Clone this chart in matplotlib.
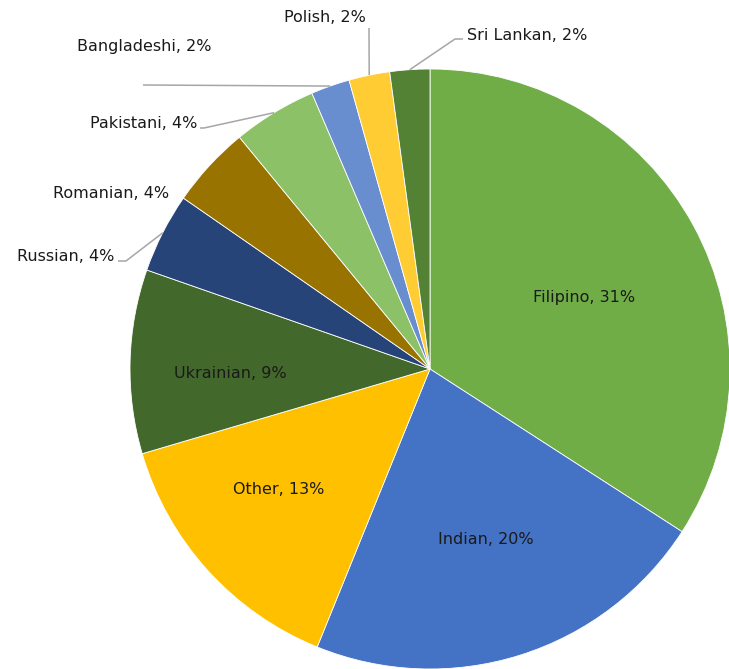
import matplotlib
matplotlib.use("Agg")
import matplotlib.pyplot as plt
import numpy as np

categories = ["Filipino", "Indian", "Other", "Ukrainian", "Russian", "Romanian",
              "Pakistani", "Bangladeshi", "Polish", "Sri Lankan"]
values = [31, 20, 13, 9, 3.9, 4.0, 4.1, 1.9, 2.0, 1.95]
pct_labels = ["31%", "20%", "13%", "9%", "4%", "4%", "4%", "2%", "2%", "2%"]
colors = ["#70AD47", "#4472C4", "#FFC000", "#43682B", "#264478", "#997300",
          "#8CC168", "#698ED0", "#FFCD33", "#548235"]

W, H = 729, 669
fig = plt.figure(figsize=(W / 100, H / 100), dpi=100)
CX, CY, R = 430, 369, 300
ax = fig.add_axes([(CX - R) / W, (H - CY - R) / H, 2 * R / W, 2 * R / H])
ax.set_xlim(-1, 1)
ax.set_ylim(-1, 1)
ax.set_aspect("equal")
ax.axis("off")

wedges, _ = ax.pie(values, colors=colors, startangle=90, counterclock=False,
                   radius=1, center=(0, 0),
                   wedgeprops=dict(linewidth=0.6, edgecolor="white"))
ax.set_xlim(-1, 1)
ax.set_ylim(-1, 1)

def px(x, y):
    return ((x - CX) / R, (CY - y) / R)

FONT = ["Liberation Sans Narrow", "DejaVu Sans"]
FS = 11.5
TC = "#1a1a1a"
LC = "#A6A6A6"

def edge(i):
    w = wedges[i]
    a = np.deg2rad((w.theta1 + w.theta2) / 2)
    return np.cos(a), np.sin(a)

# label text positions (pixel space): (x, y, ha)
label_pos = {
    "Filipino": (584, 298, "center"),
    "Indian": (486, 540, "center"),
    "Other": (279, 490, "center"),
    "Ukrainian": (230, 374, "center"),
    "Russian": (114, 257, "right"),
    "Romanian": (169, 194, "right"),
    "Pakistani": (197, 123, "right"),
    "Bangladeshi": (144, 47, "center"),
    "Polish": (325, 17, "center"),
    "Sri Lankan": (467, 35, "left"),
}
for i, c in enumerate(categories):
    x, y, ha = label_pos[c]
    dx, dy = px(x, y)
    ax.text(dx, dy, f"{c}, {pct_labels[i]}", ha=ha, va="center", fontsize=FS,
            color=TC, family=FONT, clip_on=False)

# leader lines: pixel-space starting points, then to wedge edge
leaders = {
    "Russian": [(118, 261), (126, 261)],
    "Pakistani": [(200, 128), (204, 128)],
    "Bangladeshi": [(143, 85)],
    "Polish": [(369, 28)],
    "Sri Lankan": [(463, 39), (455, 39)],
}
for c, pts in leaders.items():
    i = categories.index(c)
    xs = [px(*p)[0] for p in pts] + [edge(i)[0]]
    ys = [px(*p)[1] for p in pts] + [edge(i)[1]]
    ax.plot(xs, ys, color=LC, lw=1.1, clip_on=False, solid_capstyle="butt")

fig.savefig("out.png", dpi=100)
